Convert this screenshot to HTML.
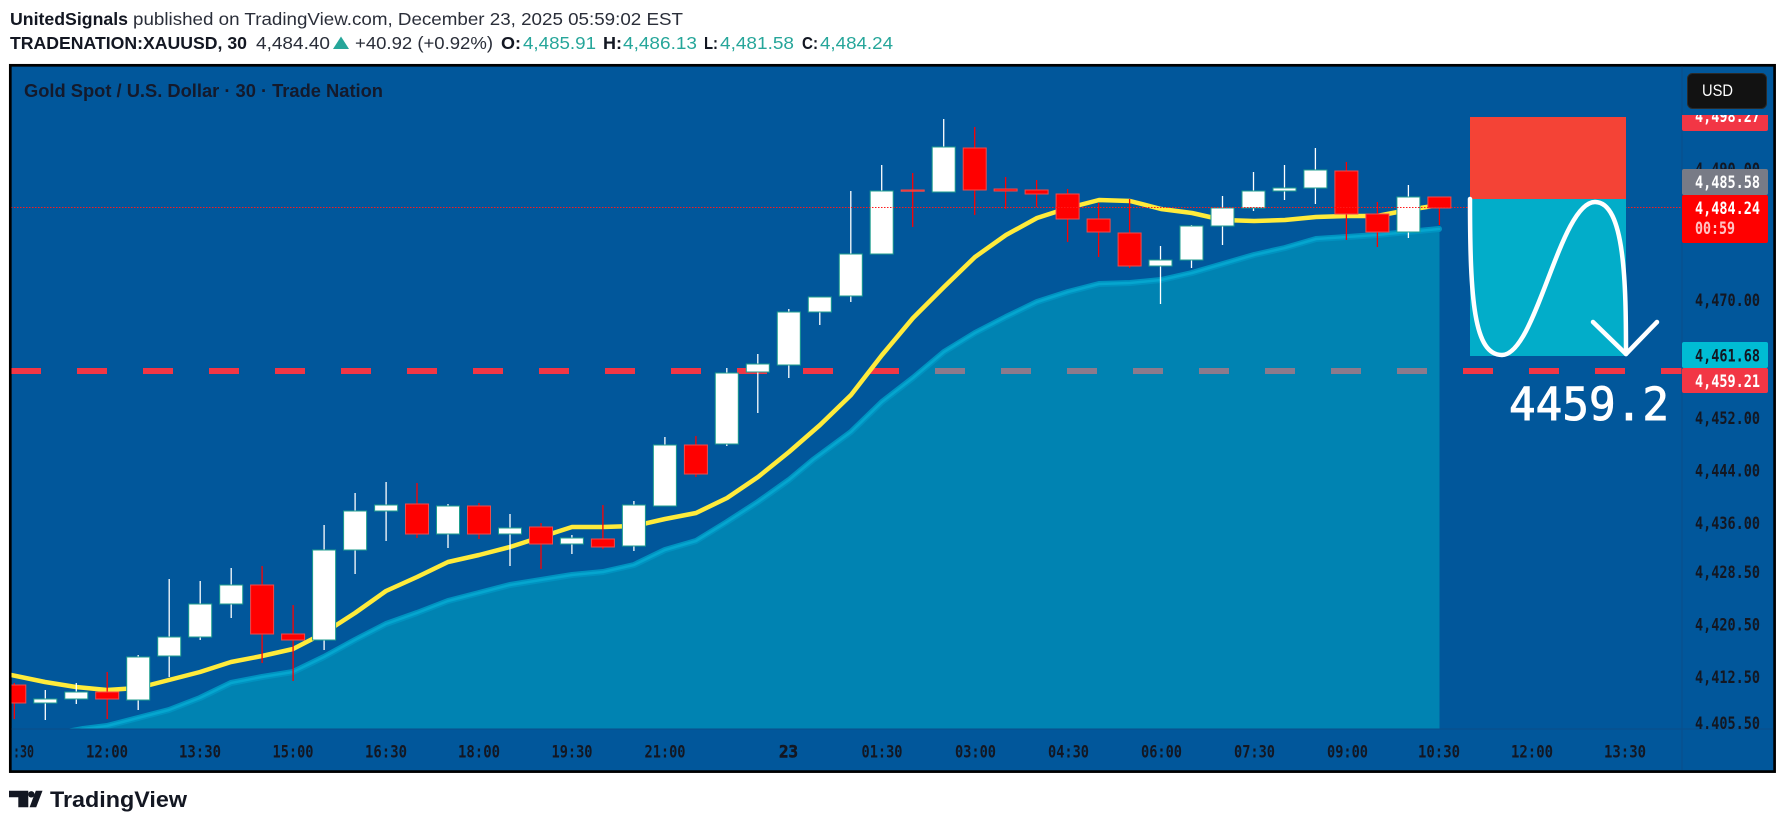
<!DOCTYPE html>
<html>
<head>
<meta charset="utf-8">
<style>
  html,body{margin:0;padding:0;background:#ffffff;}
  body{width:1785px;height:827px;overflow:hidden;}
  svg{display:block;}
  .hd{font-family:"Liberation Sans",Arial,sans-serif;font-size:17.5px;fill:#2a2e39;}
  .hb{font-weight:bold;fill:#131722;}
  .tl{fill:#26a69a;}
  .ax{font-family:"DejaVu Sans Mono","Liberation Mono",monospace;font-size:17px;font-weight:bold;fill:#131722;}
  .ww{stroke:#ffffff;stroke-width:1.3;}
  .wr{stroke:#ff0000;stroke-width:1.3;}
  .bw{fill:#ffffff;stroke:#1f9e8f;stroke-width:1;}
  .br{fill:#ff0000;stroke:#f24a4a;stroke-width:1;}
</style>
</head>
<body>
<svg width="1785" height="827" viewBox="0 0 1785 827" xmlns="http://www.w3.org/2000/svg">
<defs>
  <clipPath id="plot"><rect x="11.5" y="66.5" width="1670.5" height="662.5"/></clipPath>
  <clipPath id="areaClip"><path d="M11,742 L45,736 L83,729 L107,726 L138,718 L169,710 L200,698 L231,683 L262,677 L293,672 L324,657 L355,640 L386,624 L417,613 L448,601 L479,593 L510,585 L541,580 L572,575 L603,572 L634,565 L665,550 L696,541 L727,522 L758,502 L789,480 L813,460 L851,432 L882,402 L913,378 L944,352 L975,333 L1006,317 L1037,302 L1068,292 L1099,284 L1130,283 L1161,280 L1192,273 L1223,264 L1254,255 L1285,248 L1316,239 L1347,237 L1377,235 L1408,232 L1439.5,229 L1439.5,740 L11,740 Z"/></clipPath>
  <clipPath id="lbl498"><rect x="1682" y="115" width="90" height="20"/></clipPath>
  <clipPath id="axisClip"><rect x="1682" y="66.5" width="91" height="662.5"/></clipPath>
</defs>

<rect x="0" y="0" width="1785" height="827" fill="#ffffff"/>

<!-- header -->
<text class="hd hb" x="10" y="25" textLength="118" lengthAdjust="spacingAndGlyphs">UnitedSignals</text>
<text class="hd" x="133" y="25" textLength="550" lengthAdjust="spacingAndGlyphs">published on TradingView.com, December 23, 2025 05:59:02 EST</text>

<text class="hd hb" x="10" y="49" textLength="237" lengthAdjust="spacingAndGlyphs">TRADENATION:XAUUSD, 30</text>
<text class="hd" x="256" y="49" textLength="74" lengthAdjust="spacingAndGlyphs">4,484.40</text>
<polygon points="333,49 341,36.5 349,49" fill="#26a69a"/>
<text class="hd" x="355" y="49" textLength="138" lengthAdjust="spacingAndGlyphs">+40.92 (+0.92%)</text>
<text class="hd hb" x="501" y="49" textLength="20" lengthAdjust="spacingAndGlyphs">O:</text>
<text class="hd tl" x="523" y="49" textLength="73" lengthAdjust="spacingAndGlyphs">4,485.91</text>
<text class="hd hb" x="603" y="49" textLength="19" lengthAdjust="spacingAndGlyphs">H:</text>
<text class="hd tl" x="623" y="49" textLength="74" lengthAdjust="spacingAndGlyphs">4,486.13</text>
<text class="hd hb" x="704" y="49" textLength="14" lengthAdjust="spacingAndGlyphs">L:</text>
<text class="hd tl" x="720" y="49" textLength="74" lengthAdjust="spacingAndGlyphs">4,481.58</text>
<text class="hd hb" x="802" y="49" textLength="16" lengthAdjust="spacingAndGlyphs">C:</text>
<text class="hd tl" x="820" y="49" textLength="73" lengthAdjust="spacingAndGlyphs">4,484.24</text>

<!-- chart frame -->
<rect x="10.3" y="65.3" width="1764.3" height="706.3" fill="#01579b" stroke="#000000" stroke-width="2.7"/>

<text x="24" y="97" font-family="Liberation Sans, Arial, sans-serif" font-size="18" font-weight="bold" fill="#141a2c" textLength="359" lengthAdjust="spacingAndGlyphs">Gold Spot / U.S. Dollar · 30 · Trade Nation</text>

<g clip-path="url(#plot)">
  <line x1="11" y1="371" x2="1682" y2="371" stroke="#f23645" stroke-width="6" stroke-dasharray="30 36"/>

  <path d="M11,742 L45,736 L83,729 L107,726 L138,718 L169,710 L200,698 L231,683 L262,677 L293,672 L324,657 L355,640 L386,624 L417,613 L448,601 L479,593 L510,585 L541,580 L572,575 L603,572 L634,565 L665,550 L696,541 L727,522 L758,502 L789,480 L813,460 L851,432 L882,402 L913,378 L944,352 L975,333 L1006,317 L1037,302 L1068,292 L1099,284 L1130,283 L1161,280 L1192,273 L1223,264 L1254,255 L1285,248 L1316,239 L1347,237 L1377,235 L1408,232 L1439.5,229 L1439.5,740 L11,740 Z" fill="#0083b2"/>
  <g clip-path="url(#areaClip)">
    <line x1="11" y1="371" x2="1682" y2="371" stroke="#8c7a8c" stroke-width="6" stroke-dasharray="30 36"/>
  </g>
  <polyline fill="none" stroke="#0092c0" stroke-width="6" stroke-linejoin="round" stroke-linecap="round" points="11,742 45,736 83,729 107,726 138,718 169,710 200,698 231,683 262,677 293,672 324,657 355,640 386,624 417,613 448,601 479,593 510,585 541,580 572,575 603,572 634,565 665,550 696,541 727,522 758,502 789,480 813,460 851,432 882,402 913,378 944,352 975,333 1006,317 1037,302 1068,292 1099,284 1130,283 1161,280 1192,273 1223,264 1254,255 1285,248 1316,239 1347,237 1377,235 1408,232 1439,229"/>
  <polyline fill="none" stroke="#05a6cf" stroke-width="2.5" stroke-linejoin="round" stroke-linecap="round" points="11,742 45,736 83,729 107,726 138,718 169,710 200,698 231,683 262,677 293,672 324,657 355,640 386,624 417,613 448,601 479,593 510,585 541,580 572,575 603,572 634,565 665,550 696,541 727,522 758,502 789,480 813,460 851,432 882,402 913,378 944,352 975,333 1006,317 1037,302 1068,292 1099,284 1130,283 1161,280 1192,273 1223,264 1254,255 1285,248 1316,239 1347,237 1377,235 1408,232 1439,229"/>

  <polyline fill="none" stroke="#ffeb3b" stroke-width="4.5" stroke-linejoin="round" stroke-linecap="round" points="11,675 45,682 76,687 107,690 138,688 169,680 200,672 231,662 262,656 293,649 324,633 355,613 386,591 417,577 448,562 479,555 510,547 541,537 572,527 603,527 634,526 665,519 696,513 727,498 758,477 789,452 820,425 851,395 882,355 913,318 944,287 975,257 1006,235 1037,218 1068,208 1099,200 1130,201 1161,209 1192,213 1223,220 1254,221 1285,220 1316,217 1347,216 1377,216 1408,210 1439,205"/>

  <line class="wr" x1="14.3" x2="14.3" y1="683" y2="719"/><rect class="br" x="2.8" y="685" width="23" height="18"/>
  <line class="ww" x1="45.3" x2="45.3" y1="690" y2="720"/><rect class="bw" x="33.8" y="699" width="23" height="4"/>
  <line class="ww" x1="76.3" x2="76.3" y1="683" y2="704"/><rect class="bw" x="64.8" y="692" width="23" height="7"/>
  <line class="wr" x1="107.2" x2="107.2" y1="672" y2="719"/><rect class="br" x="95.7" y="692" width="23" height="7"/>
  <line class="ww" x1="138.2" x2="138.2" y1="655" y2="710"/><rect class="bw" x="126.7" y="657" width="23" height="43"/>
  <line class="ww" x1="169.2" x2="169.2" y1="579" y2="677"/><rect class="bw" x="157.7" y="637" width="23" height="19"/>
  <line class="ww" x1="200.2" x2="200.2" y1="581" y2="640"/><rect class="bw" x="188.7" y="604" width="23" height="33"/>
  <line class="ww" x1="231.2" x2="231.2" y1="568" y2="618"/><rect class="bw" x="219.7" y="585" width="23" height="19"/>
  <line class="wr" x1="262.1" x2="262.1" y1="566" y2="663"/><rect class="br" x="250.6" y="585" width="23" height="49"/>
  <line class="wr" x1="293.1" x2="293.1" y1="605" y2="681"/><rect class="br" x="281.6" y="634" width="23" height="6"/>
  <line class="ww" x1="324.1" x2="324.1" y1="525" y2="650"/><rect class="bw" x="312.6" y="550" width="23" height="90"/>
  <line class="ww" x1="355.1" x2="355.1" y1="493" y2="574"/><rect class="bw" x="343.6" y="511" width="23" height="39"/>
  <line class="ww" x1="386.1" x2="386.1" y1="482" y2="541"/><rect class="bw" x="374.6" y="505" width="23" height="6"/>
  <line class="wr" x1="417" x2="417" y1="483" y2="538"/><rect class="br" x="405.5" y="504" width="23" height="30"/>
  <line class="ww" x1="448" x2="448" y1="504" y2="548"/><rect class="bw" x="436.5" y="506" width="23" height="28"/>
  <line class="wr" x1="479" x2="479" y1="503" y2="539"/><rect class="br" x="467.5" y="506" width="23" height="28"/>
  <line class="ww" x1="510" x2="510" y1="514" y2="566"/><rect class="bw" x="498.5" y="528" width="23" height="6"/>
  <line class="wr" x1="541" x2="541" y1="523" y2="569"/><rect class="br" x="529.5" y="527" width="23" height="17"/>
  <line class="ww" x1="571.9" x2="571.9" y1="535" y2="554"/><rect class="bw" x="560.4" y="538" width="23" height="6"/>
  <line class="wr" x1="602.9" x2="602.9" y1="505" y2="549"/><rect class="br" x="591.4" y="539" width="23" height="8"/>
  <line class="ww" x1="633.9" x2="633.9" y1="501" y2="551"/><rect class="bw" x="622.4" y="505" width="23" height="41"/>
  <line class="ww" x1="664.9" x2="664.9" y1="437" y2="506"/><rect class="bw" x="653.4" y="445" width="23" height="61"/>
  <line class="wr" x1="695.9" x2="695.9" y1="436" y2="477"/><rect class="br" x="684.4" y="445" width="23" height="29"/>
  <line class="ww" x1="726.8" x2="726.8" y1="368" y2="446"/><rect class="bw" x="715.3" y="373" width="23" height="71"/>
  <line class="ww" x1="757.8" x2="757.8" y1="354" y2="413"/><rect class="bw" x="746.3" y="364" width="23" height="8"/>
  <line class="ww" x1="788.8" x2="788.8" y1="309" y2="378"/><rect class="bw" x="777.3" y="312" width="23" height="53"/>
  <line class="ww" x1="819.8" x2="819.8" y1="297" y2="325"/><rect class="bw" x="808.3" y="297" width="23" height="15"/>
  <line class="ww" x1="850.8" x2="850.8" y1="191" y2="302"/><rect class="bw" x="839.3" y="254" width="23" height="42"/>
  <line class="ww" x1="881.7" x2="881.7" y1="165" y2="254"/><rect class="bw" x="870.2" y="191" width="23" height="63"/>
  <line class="wr" x1="912.7" x2="912.7" y1="173" y2="227"/><rect class="br" x="901.2" y="190" width="23" height="1.2"/>
  <line class="ww" x1="943.7" x2="943.7" y1="119" y2="192"/><rect class="bw" x="932.2" y="147" width="23" height="45"/>
  <line class="wr" x1="974.7" x2="974.7" y1="127" y2="215"/><rect class="br" x="963.2" y="148" width="23" height="42"/>
  <line class="wr" x1="1005.6" x2="1005.6" y1="177" y2="209"/><rect class="br" x="994.1" y="189" width="23" height="2"/>
  <line class="wr" x1="1036.6" x2="1036.6" y1="180" y2="207"/><rect class="br" x="1025.1" y="190" width="23" height="4"/>
  <line class="wr" x1="1067.6" x2="1067.6" y1="189" y2="242"/><rect class="br" x="1056.1" y="194" width="23" height="25"/>
  <line class="wr" x1="1098.6" x2="1098.6" y1="203" y2="257"/><rect class="br" x="1087.1" y="219" width="23" height="13"/>
  <line class="wr" x1="1129.6" x2="1129.6" y1="199" y2="268"/><rect class="br" x="1118.1" y="233" width="23" height="33"/>
  <line class="ww" x1="1160.5" x2="1160.5" y1="246" y2="304"/><rect class="bw" x="1149" y="260" width="23" height="6"/>
  <line class="ww" x1="1191.5" x2="1191.5" y1="225" y2="268"/><rect class="bw" x="1180" y="226" width="23" height="34"/>
  <line class="ww" x1="1222.5" x2="1222.5" y1="196" y2="245"/><rect class="bw" x="1211" y="208" width="23" height="18"/>
  <line class="ww" x1="1253.5" x2="1253.5" y1="172" y2="211"/><rect class="bw" x="1242" y="191" width="23" height="17"/>
  <line class="ww" x1="1284.5" x2="1284.5" y1="165" y2="200"/><rect class="bw" x="1273" y="188" width="23" height="3"/>
  <line class="ww" x1="1315.4" x2="1315.4" y1="148" y2="204"/><rect class="bw" x="1303.9" y="170" width="23" height="18"/>
  <line class="wr" x1="1346.4" x2="1346.4" y1="162" y2="240"/><rect class="br" x="1334.9" y="171" width="23" height="43"/>
  <line class="wr" x1="1377.4" x2="1377.4" y1="202" y2="247"/><rect class="br" x="1365.9" y="214" width="23" height="18"/>
  <line class="ww" x1="1408.4" x2="1408.4" y1="185" y2="238"/><rect class="bw" x="1396.9" y="197" width="23" height="35"/>
  <line class="wr" x1="1439.4" x2="1439.4" y1="197" y2="225"/><rect class="br" x="1427.9" y="197" width="23" height="11"/>

  <line x1="11" y1="207.5" x2="1682" y2="207.5" stroke="#ff1a1a" stroke-width="1" stroke-dasharray="1.5 1.5"/>

  <rect x="1470" y="117" width="156" height="82" fill="#f44336"/>
  <rect x="1470" y="199" width="156" height="157" fill="#02adc9"/>

  <path d="M1470,199 C1470,300 1474,355 1502,355 C1536,355 1560,202 1595,202 C1625,202 1626,285 1626,354" fill="none" stroke="#ffffff" stroke-width="4.5" stroke-linecap="round" stroke-linejoin="round"/>
  <path d="M1593,322 L1626,354 L1657,322" fill="none" stroke="#ffffff" stroke-width="4.5" stroke-linecap="round" stroke-linejoin="round"/>

  <text x="1509" y="420" font-family="DejaVu Sans Mono, Liberation Mono, monospace" font-size="45" fill="#ffffff" stroke="#ffffff" stroke-width="0.9" textLength="160" lengthAdjust="spacingAndGlyphs">4459.2</text>
</g>

<line x1="1682" y1="66.5" x2="1682" y2="770" stroke="#0a4e8a" stroke-width="1"/>
<line x1="11.5" y1="729" x2="1773" y2="729" stroke="#0a4e8a" stroke-width="1"/>

<g clip-path="url(#axisClip)">
  <text class="ax" x="1695" y="175" textLength="65" lengthAdjust="spacingAndGlyphs">4,490.00</text>
  <text class="ax" x="1695" y="306" textLength="65" lengthAdjust="spacingAndGlyphs">4,470.00</text>
  <text class="ax" x="1695" y="424" textLength="65" lengthAdjust="spacingAndGlyphs">4,452.00</text>
  <text class="ax" x="1695" y="476.5" textLength="65" lengthAdjust="spacingAndGlyphs">4,444.00</text>
  <text class="ax" x="1695" y="529" textLength="65" lengthAdjust="spacingAndGlyphs">4,436.00</text>
  <text class="ax" x="1695" y="578" textLength="65" lengthAdjust="spacingAndGlyphs">4,428.50</text>
  <text class="ax" x="1695" y="630.5" textLength="65" lengthAdjust="spacingAndGlyphs">4,420.50</text>
  <text class="ax" x="1695" y="683" textLength="65" lengthAdjust="spacingAndGlyphs">4,412.50</text>
  <text class="ax" x="1695" y="729" textLength="65" lengthAdjust="spacingAndGlyphs">4,405.50</text>
</g>

<g clip-path="url(#lbl498)">
  <rect x="1682" y="105" width="86" height="26" rx="2" fill="#f23645"/>
  <text class="ax" x="1695" y="122" style="fill:#ffffff" textLength="65" lengthAdjust="spacingAndGlyphs">4,498.27</text>
</g>
<rect x="1682" y="169" width="86" height="26" rx="2" fill="#787b86"/>
<text class="ax" x="1695" y="188" style="fill:#ffffff" textLength="65" lengthAdjust="spacingAndGlyphs">4,485.58</text>
<rect x="1682" y="195" width="86" height="48" rx="2" fill="#ff0000"/>
<text class="ax" x="1695" y="214" style="fill:#ffffff" textLength="65" lengthAdjust="spacingAndGlyphs">4,484.24</text>
<text class="ax" x="1695" y="234" style="fill:#ffc4c4" textLength="40" lengthAdjust="spacingAndGlyphs">00:59</text>
<rect x="1682" y="342" width="86" height="26" rx="2" fill="#00bcd4"/>
<text class="ax" x="1695" y="361.5" style="fill:#131722" textLength="65" lengthAdjust="spacingAndGlyphs">4,461.68</text>
<rect x="1682" y="368" width="86" height="25" rx="2" fill="#f23645"/>
<text class="ax" x="1695" y="387" style="fill:#ffffff" textLength="65" lengthAdjust="spacingAndGlyphs">4,459.21</text>

<rect x="1687.5" y="73.5" width="79" height="35" rx="5" fill="#121212" stroke="#2a2a2a" stroke-width="1"/>
<text x="1702" y="96" font-family="Liberation Sans, Arial, sans-serif" font-size="17" fill="#ffffff" textLength="31" lengthAdjust="spacingAndGlyphs">USD</text>

<g class="ax" text-anchor="middle">
  <text x="23.5" y="757.5" textLength="21" lengthAdjust="spacingAndGlyphs">:30</text>
  <text x="107" y="757.5" textLength="42" lengthAdjust="spacingAndGlyphs">12:00</text>
  <text x="200" y="757.5" textLength="42" lengthAdjust="spacingAndGlyphs">13:30</text>
  <text x="293" y="757.5" textLength="41" lengthAdjust="spacingAndGlyphs">15:00</text>
  <text x="386" y="757.5" textLength="42" lengthAdjust="spacingAndGlyphs">16:30</text>
  <text x="479" y="757.5" textLength="42" lengthAdjust="spacingAndGlyphs">18:00</text>
  <text x="572" y="757.5" textLength="41" lengthAdjust="spacingAndGlyphs">19:30</text>
  <text x="665" y="757.5" textLength="41" lengthAdjust="spacingAndGlyphs">21:00</text>
  <text x="788.5" y="757.5" textLength="19" lengthAdjust="spacingAndGlyphs" stroke="#131722" stroke-width="0.6">23</text>
  <text x="882" y="757.5" textLength="41" lengthAdjust="spacingAndGlyphs">01:30</text>
  <text x="975.5" y="757.5" textLength="41" lengthAdjust="spacingAndGlyphs">03:00</text>
  <text x="1068.5" y="757.5" textLength="41" lengthAdjust="spacingAndGlyphs">04:30</text>
  <text x="1161.5" y="757.5" textLength="41" lengthAdjust="spacingAndGlyphs">06:00</text>
  <text x="1254.5" y="757.5" textLength="41" lengthAdjust="spacingAndGlyphs">07:30</text>
  <text x="1347.5" y="757.5" textLength="41" lengthAdjust="spacingAndGlyphs">09:00</text>
  <text x="1439" y="757.5" textLength="42" lengthAdjust="spacingAndGlyphs">10:30</text>
  <text x="1532" y="757.5" textLength="42" lengthAdjust="spacingAndGlyphs">12:00</text>
  <text x="1625" y="757.5" textLength="42" lengthAdjust="spacingAndGlyphs">13:30</text>
</g>

<g fill="#131722">
  <path d="M9,790.7 H28.3 V807.3 H18.3 V797.3 H9 Z"/>
  <circle cx="31.3" cy="794.3" r="3.2"/>
  <polygon points="35.8,790.7 42.5,790.7 36.2,807.3 29.6,807.3"/>
</g>
<text x="50" y="807" font-family="Liberation Sans, Arial, sans-serif" font-size="22" font-weight="bold" fill="#131722" textLength="137" lengthAdjust="spacingAndGlyphs">TradingView</text>
</svg>
</body>
</html>
